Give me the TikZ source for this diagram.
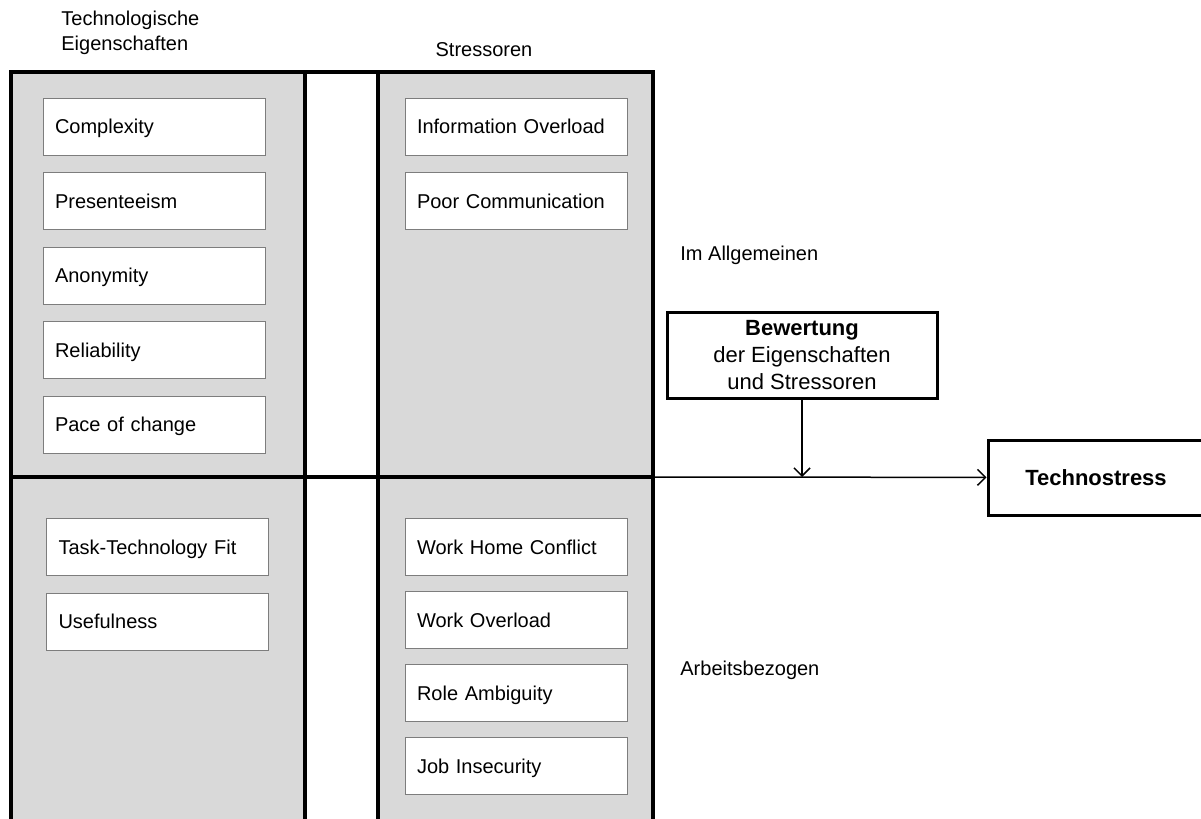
\documentclass[tikz,border=0pt]{standalone}
\usepackage{fontspec}
\setmainfont{Liberation Sans}
\usetikzlibrary{arrows.meta, positioning}
\definecolor{panelgray}{RGB}{217,217,217}
\definecolor{itemborder}{RGB}{125,125,125}

\begin{document}
\begin{tikzpicture}[
    x=0.5pt, y=-0.5pt,
    every node/.style={font=\fontsize{10}{12.5}\selectfont},
    item/.style={rectangle, draw=itemborder, fill=white, line width=0.5pt, text width=99pt, inner xsep=6pt, text height=8pt, text depth=1pt, minimum height=28.5pt, align=left},
    frame/.style={line width=1.8pt, line cap=rect},
    keybox/.style={rectangle, draw, line width=1.5pt, fill=white, align=center, font=\fontsize{11}{13.5}\selectfont},
    arrow/.style={-{Straight Barb[length=4pt, width=8pt]}, line width=0.75pt},
    sidetext/.style={anchor=west, align=left, inner sep=0pt}
]
\useasboundingbox (0,0) rectangle (1201,819);

% grey panels and frame
\fill[panelgray] (11,72) rectangle (305,830);
\fill[panelgray] (378,72) rectangle (653,830);
\draw[frame] (11,830) -- (11,72) -- (653,72) -- (653,830);
\draw[frame] (305,72) -- (305,830);
\draw[frame] (378,72) -- (378,830);
\draw[frame] (11,477) -- (653,477);
\coordinate (split) at (653,477);

% column headings
\node[sidetext] (techlabel) at (61,32.5) {Technologische\\Eigenschaften};
\node (stresslabel) at (484,50) {Stressoren};
\node[sidetext] (general) at (680,255) {Im Allgemeinen};
\node[sidetext] (jobrelated) at (680,670) {Arbeitsbezogen};

% technological properties
\node[item] (complexity) at (154,126.5) {Complexity};
\node[item, below=8.25pt of complexity] (presence) {Presenteeism};
\node[item, below=8.25pt of presence] (anonymity) {Anonymity};
\node[item, below=8.25pt of anonymity] (reliability) {Reliability};
\node[item, below=8.25pt of reliability] (pace) {Pace of change};

\node[item] (fit) at (157.5,547) {Task-Technology Fit};
\node[item, below=8.25pt of fit] (usefulness) {Usefulness};

% stressors
\node[item] (infoload) at (516,126.5) {Information Overload};
\node[item, below=8.25pt of infoload] (poorcomm) {Poor Communication};

\node[item] (homeconflict) at (516,547) {Work Home Conflict};
\node[item, below=7.5pt of homeconflict] (workload) {Work Overload};
\node[item, below=7.5pt of workload] (ambiguity) {Role Ambiguity};
\node[item, below=7.5pt of ambiguity] (insecurity) {Job Insecurity};

% appraisal and outcome
\node[keybox, minimum width=135pt, minimum height=43pt] (rating) at (802,355) {\textbf{Bewertung}\\der Eigenschaften\\und Stressoren};
\node[keybox, minimum width=108pt, minimum height=37.5pt] (techno) at (1096,477.5) {\textbf{Technostress}};

\coordinate (join) at (rating.south |- split);
\draw[arrow] (rating) -- (join);
\draw[arrow] (split) -- (techno);

\end{tikzpicture}
\end{document}
